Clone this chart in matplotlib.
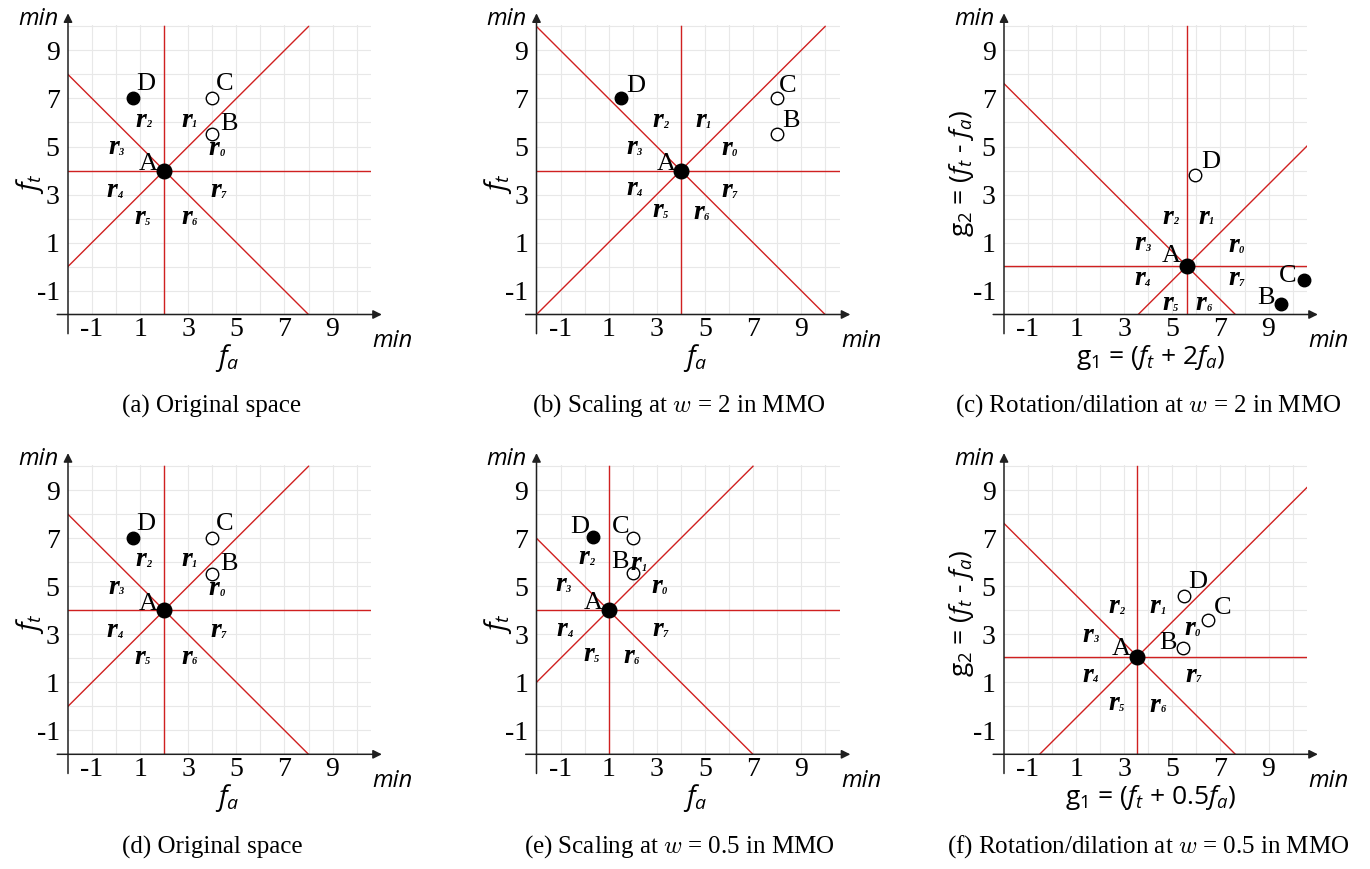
import matplotlib
matplotlib.use("Agg")
import matplotlib.pyplot as plt
import numpy as np

plt.rcParams['mathtext.fontset'] = 'custom'
plt.rcParams['mathtext.rm'] = 'Open Sans'
plt.rcParams['mathtext.it'] = 'Open Sans:italic'
plt.rcParams['mathtext.bf'] = 'Liberation Serif:bold'

# ---------------- data ----------------
ticks = [-1, 1, 3, 5, 7, 9]
tick_labels = ["-1", "1", "3", "5", "7", "9"]

captions = ["(a) Original space",
            r"(b) Scaling at $w$ = 2 in MMO",
            r"(c) Rotation/dilation at $w$ = 2 in MMO",
            "(d) Original space",
            r"(e) Scaling at $w$ = 0.5 in MMO",
            r"(f) Rotation/dilation at $w$ = 0.5 in MMO"]

xlabels = [r"$f_a$", r"$f_a$", r"g$_1$ = ($f_t$ + 2$f_a$)",
           r"$f_a$", r"$f_a$", r"g$_1$ = ($f_t$ + 0.5$f_a$)"]
ylabels = [r"$f_t$", r"$f_t$", r"g$_2$ = ($f_t$ - $f_a$)",
           r"$f_t$", r"$f_t$", r"g$_2$ = ($f_t$ - $f_a$)"]

# point A (origin of the region lines) per panel
A_x = [2.0, 4.0, 5.6, 2.0, 1.0, 3.55]
A_y = [4.0, 4.0, 0.02, 4.0, 4.0, 2.07]

# points B, C, D per panel
B_x = [4.0, 8.0, 9.5, 4.0, 2.0, 5.45]
B_y = [5.5, 5.5, -1.55, 5.5, 5.55, 2.44]
C_x = [4.0, 8.0, 10.48, 4.0, 2.0, 6.5]
C_y = [7.0, 7.0, -0.58, 7.0, 7.0, 3.6]
D_x = [0.7, 1.5, 5.94, 0.7, 0.35, 5.47]
D_y = [7.0, 7.0, 3.83, 7.0, 7.04, 4.61]
# filled (dominated) or open
B_filled = [False, False, True, False, False, False]
C_filled = [False, False, True, False, False, False]
D_filled = [True, True, False, True, True, False]

# label offsets (dx, dy) of the point letters
A_lab = [(-0.65, 0.28), (-0.62, 0.28), (-0.64, 0.42), (-0.65, 0.28), (-0.66, 0.3), (-0.67, 0.31)]
B_lab = [(0.7, 0.45), (0.6, 0.58), (-0.6, 0.23), (0.7, 0.45), (-0.52, 0.45), (-0.62, 0.2)]
C_lab = [(0.5, 0.6), (0.46, 0.54), (-0.68, 0.2), (0.5, 0.6), (-0.5, 0.47), (0.6, 0.5)]
D_lab = [(0.55, 0.6), (0.63, 0.5), (0.64, 0.52), (0.55, 0.6), (-0.55, 0.45), (0.6, 0.55)]

# region label positions r0..r7 per panel
r_x = [[4.08, 2.94, 1.03, -0.11, -0.18, 1.0, 2.94, 4.13],
       [5.9, 4.82, 3.06, 1.95, 1.95, 3.06, 4.73, 5.9],
       [7.54, 6.3, 4.82, 3.64, 3.64, 4.82, 6.2, 7.54],
       [4.08, 2.94, 1.03, -0.11, -0.18, 1.0, 2.94, 4.13],
       [3.01, 2.15, -0.04, -1.0, -0.94, 0.17, 1.83, 3.05],
       [5.72, 4.29, 2.58, 1.5, 1.47, 2.58, 4.29, 5.75]]
r_y = [[4.9, 6.1, 6.1, 4.97, 3.17, 2.05, 2.05, 3.17],
       [4.9, 6.08, 6.08, 4.97, 3.24, 2.33, 2.26, 3.17],
       [0.88, 2.06, 2.06, 0.95, -0.5, -1.55, -1.55, -0.5],
       [4.9, 6.1, 6.1, 4.97, 3.17, 2.05, 2.05, 3.17],
       [4.99, 5.94, 6.18, 5.06, 3.18, 2.14, 2.07, 3.18],
       [3.25, 4.16, 4.16, 2.97, 1.3, 0.12, 0.05, 1.3]]

# ---------------- layout ----------------
W, H = 1370, 869
fig = plt.figure(figsize=(W / 100, H / 100), dpi=100)

XMIN, XMAX = -2.0, 10.6
YMIN, YMAX = -2.0, 10.05
unit_x, unit_y = 24.05, 24.0
ax_w = (XMAX - XMIN) * unit_x
ax_h = (YMAX - YMIN) * unit_y

left_px = [68, 536.5, 1004]
bottom_px = [314.5, 754.3]

RED = '#d02020'
GRID = '#e8e8e8'

serif = ['Liberation Serif', 'DejaVu Serif']
sans = ['Open Sans', 'DejaVu Sans']

for i in range(6):
    row, col = divmod(i, 3)
    l = left_px[col] / W
    b = (H - bottom_px[row]) / H
    ax = fig.add_axes([l, b, ax_w / W, ax_h / H])
    ax.set_xlim(XMIN, XMAX)
    ax.set_ylim(YMIN, YMAX)
    for s in ax.spines.values():
        s.set_visible(False)
    ax.set_xticks(ticks)
    ax.set_xticklabels(tick_labels, fontfamily=serif, fontsize=20)
    ax.set_yticks(ticks)
    ax.set_yticklabels(tick_labels, fontfamily=serif, fontsize=20)
    ax.tick_params(length=0, pad=2)
    ax.tick_params(axis='y', pad=6)

    # grid every unit
    for g in range(-1, 11):
        ax.plot([g, g], [YMIN, YMAX], color=GRID, lw=0.8, zorder=0)
    for g in range(-1, 11):
        ax.plot([XMIN, XMAX], [g, g], color=GRID, lw=0.8, zorder=0)

    # axes with arrows
    ax.annotate('', xy=(11.05, -2.0), xytext=(-2.45, -2.0), xycoords='data',
                arrowprops=dict(arrowstyle='-|>', color='#202020', lw=1.1,
                                mutation_scale=13, shrinkA=0, shrinkB=0),
                annotation_clip=False)
    ax.annotate('', xy=(-2.0, 10.55), xytext=(-2.0, -2.8), xycoords='data',
                arrowprops=dict(arrowstyle='-|>', color='#202020', lw=1.1,
                                mutation_scale=13, shrinkA=0, shrinkB=0),
                annotation_clip=False)

    ax.text(-2.4, 10.3, 'min', fontfamily=sans, style='italic', fontsize=17,
            ha='right', va='center', clip_on=False)
    ax.text(11.5, -3.1, 'min', fontfamily=sans, style='italic', fontsize=17,
            ha='center', va='center', clip_on=False)

    # region boundary lines through A
    ax0, ay0 = A_x[i], A_y[i]
    ax.plot([ax0, ax0], [YMIN, 10.0], color=RED, lw=1.0, zorder=2)
    ax.plot([XMIN, XMAX], [ay0, ay0], color=RED, lw=1.0, zorder=2)
    # diagonal (slope +1)
    d = ay0 - ax0
    x_lo = max(XMIN, YMIN - d)
    x_hi = min(XMAX, 10.0 - d)
    ax.plot([x_lo, x_hi], [x_lo + d, x_hi + d], color=RED, lw=1.0, zorder=2)
    # anti-diagonal (slope -1)
    c = ay0 + ax0
    x_lo2 = max(XMIN, c - 10.0)
    x_hi2 = min(XMAX, c - YMIN)
    ax.plot([x_lo2, x_hi2], [c - x_lo2, c - x_hi2], color=RED, lw=1.0, zorder=2)

    # points
    def pt(x, y, filled, label, off, big=False):
        ax.plot([x], [y], 'o', ms=10.5 if big else 9,
                mfc='black' if filled else 'white', mec='black', mew=1.0,
                zorder=5, clip_on=False)
        ax.text(x + off[0], y + off[1], label, fontfamily=serif, fontsize=19,
                ha='center', va='center', zorder=6, clip_on=False)

    pt(ax0, ay0, True, 'A', A_lab[i], big=True)
    pt(B_x[i], B_y[i], B_filled[i], 'B', B_lab[i])
    pt(C_x[i], C_y[i], C_filled[i], 'C', C_lab[i])
    pt(D_x[i], D_y[i], D_filled[i], 'D', D_lab[i])

    # region labels: bold italic r with a tiny subscript
    for k in range(8):
        ax.text(r_x[i][k], r_y[i][k], 'r', fontfamily=serif, fontsize=20,
                fontweight='bold', style='italic', ha='center', va='center', zorder=6)
        ax.annotate(str(k), xy=(r_x[i][k], r_y[i][k]), xytext=(5.5, -3.5),
                    textcoords='offset points', fontfamily=serif, fontsize=7.5,
                    fontweight='bold', style='italic', ha='center', va='center', zorder=6)

    # axis labels
    if col < 2:
        ax.text(4.6, -3.8, xlabels[i], fontsize=20, ha='center', va='center',
                fontfamily=sans, clip_on=False)
        ax.text(-3.6, 3.45, ylabels[i], fontsize=20, ha='center', va='center',
                rotation=90, fontfamily=sans, clip_on=False)
    else:
        ax.text(4.1, -3.8, xlabels[i], fontsize=19, ha='center', va='center',
                fontfamily=sans, clip_on=False)
        ax.text(-3.75, 3.9, ylabels[i], fontsize=19, ha='center', va='center',
                rotation=90, fontfamily=sans, clip_on=False)

    # caption
    cap_x = [212, 679, 1148][col] / W
    cap_y = (H - [406, 847][row]) / H
    fig.text(cap_x, cap_y, captions[i], fontfamily=serif, fontsize=18,
             ha='center', va='center', math_fontfamily='cm')

fig.savefig('out.png', dpi=100)
